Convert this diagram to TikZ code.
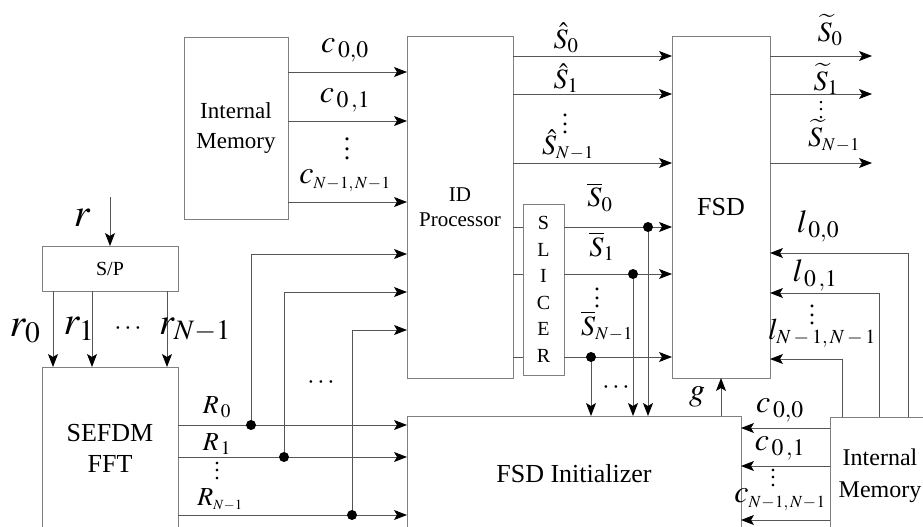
\documentclass[tikz,border=0pt]{standalone}
\usepackage{mathptmx}
\usepackage[no-math]{fontspec}
\setmainfont{Liberation Serif}
\usetikzlibrary{arrows.meta,positioning}
\definecolor{boxgray}{RGB}{128,128,128}
\definecolor{wiregray}{RGB}{85,85,85}
\newcommand{\vdotsx}{\vbox{\baselineskip=0.36em\lineskiplimit=0pt\hbox{.}\hbox{.}\hbox{.}}}
\newcommand{\subx}[2]{\mbox{\fontsize{#1}{#1}\selectfont$#2$}}
\tikzset{
  block/.style={rectangle, draw=boxgray, line width=1pt, anchor=north west,
                inner sep=0pt, outer sep=0pt, align=center},
  arrow/.style={-{Stealth[length=13pt, width=10pt, inset=3pt, color=black]}, line width=0.9pt, wiregray},
  wire/.style={line width=0.9pt, wiregray},
  dot/.style={circle, fill=black, inner sep=0pt, minimum size=10pt},
  sig/.style={inner sep=0pt, font=\fontsize{#1}{#1}\selectfont},
  sig/.default=32,
}

\begin{document}
\begin{tikzpicture}[x=1pt, y=-1pt]
\useasboundingbox (0,0) rectangle (923,527);
\clip (0,0) rectangle (923,527);

% blocks
\node[block, minimum width=104pt, minimum height=181pt, font=\fontsize{23}{30}\selectfont] (mem) at (184,38) {Internal\\Memory};
\node[block, minimum width=106pt, minimum height=341pt, font=\fontsize{21}{25}\selectfont] (idp) at (407,37) {ID\\Processor};
\node[block, minimum width=41pt, minimum height=171pt, font=\fontsize{20}{26.5}\selectfont] (slc) at (523,204) {S\\L\\I\\C\\E\\R};
\node[block, minimum width=98pt, minimum height=341pt, font=\fontsize{26}{26}\selectfont] (fsd) at (672,37) {FSD};
\node[block, minimum width=136pt, minimum height=45pt, font=\fontsize{20}{20}\selectfont] (sp) at (42,246) {S/P};
\node[block, minimum width=136pt, minimum height=163pt, font=\fontsize{26}{31}\selectfont] (fft) at (42,367) {SEFDM\\FFT};
\node[block, minimum width=334pt, minimum height=115pt, font=\fontsize{26}{26}\selectfont] (ini) at (407,416) {FSD Initializer};
\node[block, minimum width=100pt, minimum height=118pt, font=\fontsize{24}{32}\selectfont] (mem2) at (830,417) {Internal\\Memory};

% memory to ID processor
\foreach \y in {72,121,202}
  \draw[arrow] (mem.east |- 0,\y) -- (idp.west |- 0,\y);
% ID processor to FSD
\foreach \y in {56,94,163}
  \draw[arrow] (idp.east |- 0,\y) -- (fsd.west |- 0,\y);
% through the slicer
\foreach \y in {227,274,357}{
  \draw[wire] (idp.east |- 0,\y) -- (slc.west |- 0,\y);
  \draw[arrow] (slc.east |- 0,\y) -- (fsd.west |- 0,\y);
}
% FSD outputs
\coordinate (out) at (872,0);
\foreach \y in {56,94,163}
  \draw[arrow] (fsd.east |- 0,\y) -- (out |- 0,\y);

% slicer taps to initializer
\coordinate (t0) at (648,227);
\coordinate (t1) at (633,274);
\coordinate (tn) at (591,357);
\foreach \t in {t0,t1,tn}
  \draw[arrow] (\t) -- (\t |- ini.north);
\draw[arrow] (ini.north -| 721,0) -- (fsd.south -| 721,0);

% second memory
\foreach \x/\y in {908/253, 879/293, 842/359}
  \draw[arrow] (mem2.north -| \x,0) |- (fsd.east |- 0,\y);
\foreach \y in {428,466,520}
  \draw[arrow] (mem2.west |- 0,\y) -- (ini.east |- 0,\y);

% S/P and FFT
\coordinate (rin) at (110,197);
\draw[arrow] (rin) -- (sp.north);
\foreach \x in {53,92,167}
  \draw[arrow] (sp.south -| \x,0) -- (fft.north -| \x,0);
\foreach \y in {425,457,515}
  \draw[arrow] (fft.east |- 0,\y) -- (ini.west |- 0,\y);
\coordinate (k0) at (251,425);
\coordinate (k1) at (284,457);
\coordinate (kn) at (352,515);
\foreach \k/\y in {k0/254, k1/292, kn/330}
  \draw[arrow] (\k) |- (idp.west |- 0,\y);

% junctions
\foreach \p in {t0,t1,tn,k0,k1,kn}
  \node[dot] (\p-dot) at (\p) {};

% labels
\node[sig] (lc0) at (345,50) {$c_{\,0,0}$};
\node[sig] (lc1) at (345,100) {$c_{\,0\,,1}$};
\node[sig=26] (lcv) at (347,149) {\vdotsx};
\node[sig] (lcn) at (345,181) {$c_{\subx{17}{N\!-\!1,N\!-\!1}}$};

\node[sig=28] (lh0) at (566,38) {$\hat{S}_0$};
\node[sig=28] (lh1) at (566,78) {$\hat{S}_1$};
\node[sig=24] (lhv) at (565,124) {\vdotsx};
\node[sig=28] (lhn) at (568,145) {$\hat{S}_{\subx{18}{N\!-\!1}}$};

\node[sig=28] (lt0) at (830,30) {$\widetilde{S}_0$};
\node[sig=28] (lt1) at (826,79) {$\widetilde{S}_1$};
\node[sig=20] (ltv) at (821,110) {\vdotsx};
\node[sig=28] (ltn) at (834,136) {$\widetilde{S}_{\subx{18}{N\!-\!1}}$};

\node[sig=28] (lb0) at (600,197) {$\overline{S}_0$};
\node[sig=28] (lb1) at (602,246) {$\overline{S}_1$};
\node[sig=24] (lbv) at (597,298) {\vdotsx};
\node[sig=28] (lbn) at (607,326) {$\overline{S}_{\subx{18}{N\!-\!1}}$};

\node[sig] (ll0) at (818,226) {$l_{\,0,0}$};
\node[sig] (ll1) at (815,275) {$l_{\,0\,,1}$};
\node[sig=24] (llv) at (812,315) {\vdotsx};
\node[sig=30] (lln) at (822,333) {$l_{\subx{20}{N-1,N-1}}$};

\node[sig] (lm0) at (780,410) {$c_{\,0,0}$};
\node[sig] (lm1) at (780,448) {$c_{\,0\,,1}$};
\node[sig=22] (lmv) at (773,478) {\vdotsx};
\node[sig] (lmn) at (780,500) {$c_{\subx{17}{N\!-\!1,N\!-\!1}}$};

\node[sig] (lg) at (697,397) {$g$};

\node[sig=26] (lR0) at (217,407) {$R_{\,0}$};
\node[sig=26] (lR1) at (217,444) {$R_{\,1}$};
\node[sig=22] (lRv) at (217,471) {\vdotsx};
\node[sig=26] (lRn) at (220,500) {$R_{\subx{14}{N\!-\!1}}$};

\node[sig=40] (lr) at (82,218) {$r$};
\node[sig=40] (lr0) at (25,331) {$r_0$};
\node[sig=40] (lr1) at (79,329) {$r_1$};
\node[sig=26] (lrd) at (128,329) {$\cdots$};
\node[sig=38] (lrn) at (195,330) {$r_{N-1}$};

\node[sig=26] (ld1) at (321,383) {$\cdots$};
\node[sig=26] (ld2) at (616,388) {$\cdots$};
\end{tikzpicture}
\end{document}
